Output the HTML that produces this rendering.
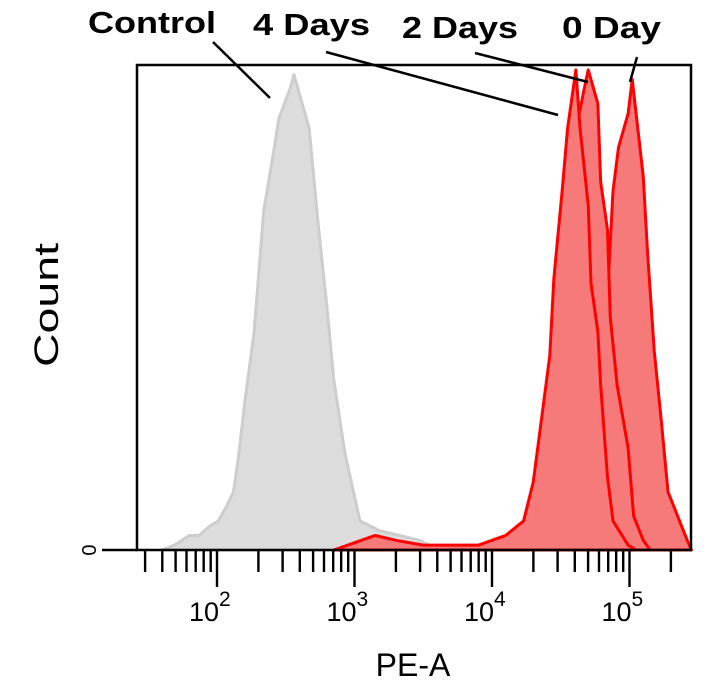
<!DOCTYPE html>
<html><head><meta charset="utf-8"><style>
html,body{margin:0;padding:0;background:#fff;}
svg{display:block;font-family:"Liberation Sans",Arial,sans-serif;}
</style></head><body>
<svg id="chart" width="720" height="700" viewBox="0 0 720 700">
<rect x="0" y="0" width="720" height="700" fill="#fff"/>
<g id="series"></g>
<rect x="137" y="65" width="554" height="485" fill="none" stroke="#000" stroke-width="2.5"/>
<g id="ticks"></g>
<line x1="102" y1="550" x2="137" y2="550" stroke="#000" stroke-width="2.5"/>
<text transform="translate(90,550) rotate(-90)" text-anchor="middle" dominant-baseline="central" font-size="20">0</text>
<text transform="translate(58,305) rotate(-90)" text-anchor="middle" font-size="34" textLength="124" lengthAdjust="spacingAndGlyphs">Count</text>
<text x="413" y="676" text-anchor="middle" font-size="32">PE-A</text>
<g font-weight="bold" font-size="31">
<text x="88" y="33" textLength="128" lengthAdjust="spacingAndGlyphs">Control</text>
<text x="253" y="35" textLength="117" lengthAdjust="spacingAndGlyphs">4 Days</text>
<text x="402" y="38" textLength="116" lengthAdjust="spacingAndGlyphs">2 Days</text>
<text x="562" y="38" textLength="99" lengthAdjust="spacingAndGlyphs">0 Day</text>
</g>
<g stroke="#000" stroke-width="2.5">
<line x1="213" y1="42" x2="270" y2="98"/>
<line x1="326" y1="52" x2="558" y2="115"/>
<line x1="475" y1="53" x2="588" y2="82"/>
<line x1="637" y1="57" x2="630" y2="82"/>
</g>
</svg>
<script>
const controlLogs=[1.60,1.69,1.80,1.87,1.95,2.01,2.07,2.12,2.16,2.20,2.27,2.34,2.40,2.45,2.53,2.56,2.60,2.67,2.74,2.80,2.85,2.93,3.04,3.18,3.33,3.47,3.62];
const controlCounts=[0,1,3,3,5,6,9,12,20,30,45,70,80,89,95,98,94,87,66,50,35,20,6,4,3,2,0];
const day4Logs=[2.85,2.95,3.05,3.15,3.3,3.5,3.7,3.9,4.1,4.23,4.30,4.36,4.42,4.45,4.51,4.55,4.61,4.64,4.70,4.72,4.77,4.79,4.84,4.88,4.99,5.05];
const day4Counts=[0,1,2,3,2,1,1,1,3,6,14,27,40,56,74,87,99,87,71,55,45,34,15,6,1,0];
const day2Logs=[4.1,4.3,4.38,4.44,4.5,4.56,4.62,4.67,4.70,4.77,4.79,4.84,4.86,4.91,4.99,5.03,5.10,5.15];
const day2Counts=[2,8,25,40,55,75,88,95,99,92,76,66,48,34,21,7,2,0];
const day0Logs=[4.5,4.6,4.7,4.78,4.85,4.88,4.92,4.99,5.02,5.10,5.13,5.18,5.23,5.28,5.35,5.42,5.45];
const day0Counts=[1,5,15,35,58,74,83,90,97,77,62,41,27,12,7,2,0];
const majorTicks=[2,3,4,5];
const majorLabels=["2","3","4","5"];
const minorDecades=[1,2,3,4,5];

const X0=137,X1=691,Y0=550,YT=65;
const xs=l=>217+(l-2)*137.5;
const ys=v=>Y0-v/100*(Y0-YT);
const NS="http://www.w3.org/2000/svg";
const g=document.getElementById('series');
function draw(logs,counts,fill,stroke,name){
  let d="M"+xs(logs[0])+","+Y0;
  for(let i=0;i<logs.length;i++){
    d+=" L"+xs(logs[i])+","+ys(counts[i]);
  }
  d+=" L"+xs(logs[logs.length-1])+","+Y0+" Z";
  const p=document.createElementNS(NS,'path');
  p.setAttribute('d',d);p.setAttribute('fill',fill);p.setAttribute('stroke',stroke);
  p.setAttribute('stroke-width','3');p.setAttribute('stroke-linejoin','round');
  
  
  g.appendChild(p);
}
draw(controlLogs,controlCounts,'#dcdcdc','#cdcdcd','histogram-control');
draw(day0Logs,day0Counts,'#f67a7a','#ff0000','histogram-0-day');
draw(day2Logs,day2Counts,'#f67a7a','#ff0000','histogram-2-days');
draw(day4Logs,day4Counts,'#f67a7a','#ff0000','histogram-4-days');

const t=document.getElementById('ticks');
function line(x1,y1,x2,y2,name){
  const l=document.createElementNS(NS,'line');
  l.setAttribute('x1',x1);l.setAttribute('y1',y1);l.setAttribute('x2',x2);l.setAttribute('y2',y2);
  l.setAttribute('stroke','#000');l.setAttribute('stroke-width','2.4');
  
  
  t.appendChild(l);
}
minorDecades.forEach(dec=>{
  for(let k=2;k<=9;k++){
    const x=xs(dec+Math.log10(k));
    if(x<X0+3||x>X1-3)continue;
    line(x,Y0,x,572,'minor-tick');
  }
});
majorTicks.forEach((m,i)=>{
  const x=xs(m);
  line(x,Y0,x,587,'major-tick');
  const tx=document.createElementNS(NS,'text');
  tx.setAttribute('x',x-28);tx.setAttribute('y',621);tx.setAttribute('font-size','27');
  
  
  tx.textContent="10";
  const sp=document.createElementNS(NS,'tspan');
  sp.setAttribute('dy','-15');sp.setAttribute('font-size','21');
  sp.textContent=majorLabels[i];
  tx.appendChild(sp);
  t.appendChild(tx);
});
</script>
</body></html>
